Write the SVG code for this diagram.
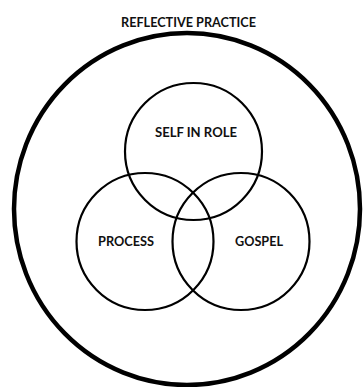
<svg xmlns="http://www.w3.org/2000/svg" width="364" height="387" viewBox="0 0 364 387">
  <style>
    .ring { fill: none; stroke: #000; stroke-width: 2.2; }
    .outer { fill: none; stroke: #000; stroke-width: 4.5; }
    .lbl { font-family: Lato, "Open Sans", "Liberation Sans", sans-serif; font-weight: bold; fill: #111; text-anchor: middle; }
  </style>
  <rect width="364" height="387" fill="#fff"/>

  <g id="reflective-practice">
    <ellipse class="outer" cx="187" cy="209" rx="173" ry="176"/>
    <text class="lbl" x="188.5" y="27" font-size="14" textLength="135" lengthAdjust="spacingAndGlyphs">REFLECTIVE PRACTICE</text>
  </g>

  <g id="self-in-role">
    <circle class="ring" cx="193.5" cy="151.5" r="68.5"/>
    <text class="lbl" x="196" y="137" font-size="12.5" textLength="82" lengthAdjust="spacingAndGlyphs">SELF IN ROLE</text>
  </g>

  <g id="process">
    <circle class="ring" cx="145" cy="241.5" r="68.5"/>
    <text class="lbl" x="126" y="246" font-size="12.5" textLength="56" lengthAdjust="spacingAndGlyphs">PROCESS</text>
  </g>

  <g id="gospel">
    <circle class="ring" cx="241" cy="241.5" r="68.5"/>
    <text class="lbl" x="259" y="246" font-size="12.5" textLength="48" lengthAdjust="spacingAndGlyphs">GOSPEL</text>
  </g>

  <g id="connectors"></g>
</svg>
